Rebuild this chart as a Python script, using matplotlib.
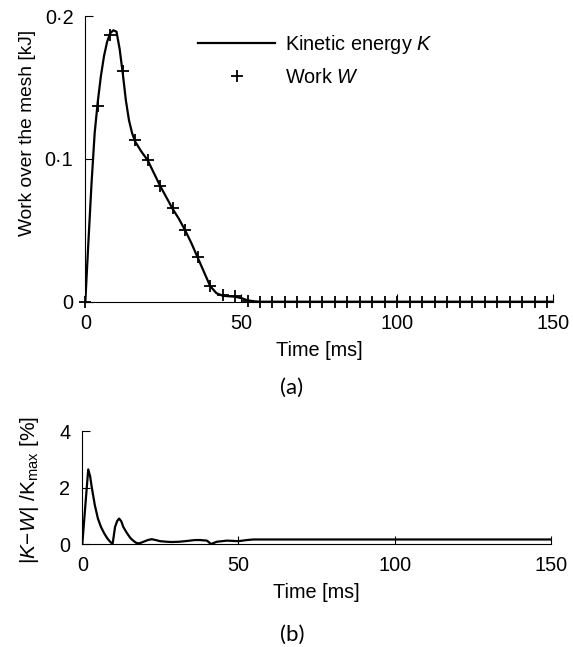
import numpy as np
import matplotlib
matplotlib.use("Agg")
import matplotlib.pyplot as plt

plt.rcParams["font.family"] = ["Liberation Sans", "DejaVu Sans"]
plt.rcParams["mathtext.fontset"] = "custom"
plt.rcParams["mathtext.rm"] = "Liberation Sans"
plt.rcParams["mathtext.it"] = "Liberation Sans:italic"
plt.rcParams["mathtext.bf"] = "Liberation Sans:bold"

# Kinetic energy K [kJ] over time [ms]
k_time = [0, 1, 2, 3, 4, 5, 6, 7, 8, 9, 10, 11, 12, 13, 14, 15, 16, 18, 20,
          22, 24, 26, 28, 30, 32, 34, 36, 38, 40, 42, 44, 46, 48, 50, 52, 54,
          56, 60, 150]
k_energy = [0, 0.042, 0.083, 0.118, 0.140, 0.158, 0.172, 0.182, 0.188, 0.190,
            0.189, 0.177, 0.160, 0.141, 0.127, 0.118, 0.112, 0.105, 0.099,
            0.090, 0.081, 0.073, 0.065, 0.058, 0.050, 0.041, 0.031, 0.021,
            0.011, 0.006, 0.0042, 0.0038, 0.0035, 0.0025, 0.001, 0.0003,
            0, 0, 0]

# Work W [kJ] sampled every 4 ms
w_time = list(range(0, 149, 4))
w_work = [0, 0.137, 0.187, 0.1615, 0.113, 0.099, 0.081, 0.0655, 0.050,
          0.031, 0.011, 0.0044, 0.0037, 0.0007] + [0] * 24

# Relative difference |K-W|/Kmax [%]
e_time = [0, 1, 1.9, 2.5, 3, 4, 5, 6, 7, 8, 9, 9.7, 10.5, 11.2, 11.8, 12.5,
          13.1, 14, 14.7, 15.5, 16.3, 17.1, 17.9, 18.7, 19.6, 21, 22.2, 23.5,
          24.9, 27, 28.6, 31, 32.9, 36.1, 37.7, 39.9, 41.2, 43.1, 46.3, 50,
          52.7, 54.8, 150]
e_diff = [0, 1.4, 2.64, 2.4, 2.03, 1.38, 0.9, 0.6, 0.38, 0.2, 0.07, 0, 0.61,
          0.82, 0.9, 0.8, 0.61, 0.44, 0.32, 0.2, 0.12, 0.05, 0.02, 0.04, 0.08,
          0.14, 0.17, 0.14, 0.1, 0.08, 0.07, 0.08, 0.1, 0.14, 0.14, 0.12, 0,
          0.08, 0.12, 0.1, 0.14, 0.16, 0.16]

W, H = 573, 647
fig = plt.figure(figsize=(W / 100, H / 100), dpi=100)

FS = 14.3


def px_axes(l, r, b, t):
    return fig.add_axes([l / W, 1 - b / H, (r - l) / W, (b - t) / H])


def style(ax):
    for s in ("top", "right"):
        ax.spines[s].set_visible(False)
    for s in ("left", "bottom"):
        ax.spines[s].set_linewidth(0.8)
    ax.tick_params(direction="in", length=6, width=0.8, labelsize=FS, pad=8.5)


# ---- (a) energy and work ----
ax1 = px_axes(85.3, 553.3, 301.7, 16)
ax1.plot(k_time, k_energy, color="black", lw=1.6, label=r"Kinetic energy $K$",
         zorder=3)
ax1.plot(w_time, w_work, ls="none", marker="+", ms=8, mew=1.3, color="black",
         label=r"Work $W$", zorder=4, clip_on=False)
ax1.set_xlim(0, 150)
ax1.set_ylim(0, 0.2)
ax1.set_xticks([0, 50, 100, 150])
ax1.set_yticks([0, 0.1, 0.2])
ax1.set_yticklabels(["0", "0\u00b71", "0\u00b72"])
style(ax1)
ax1.set_xlabel("Time [ms]", fontsize=FS, labelpad=6)
fig.text(28 / W, 1 - 133 / H, "Work over the mesh [kJ]", rotation=90,
         ha="center", va="center", fontsize=13.8)
ax1.legend(loc="upper left", bbox_to_anchor=(198 / W, 1 - 33 / H),
           bbox_transform=fig.transFigure, frameon=False, fontsize=FS,
           handlelength=3.9, handletextpad=0.5, borderpad=0,
           borderaxespad=0, labelspacing=0.6, numpoints=1)
fig.text(292 / W, 1 - 388 / H, "(a)", ha="center", va="center",
         fontsize=16, family="Lato")

# ---- (b) relative difference ----
ax2 = px_axes(82.3, 550.7, 544, 431)
ax2.plot(e_time, e_diff, color="black", lw=1.6, zorder=3)
ax2.set_xlim(0, 150)
ax2.set_ylim(0, 4)
ax2.set_xticks([0, 50, 100, 150])
ax2.set_yticks([0, 2, 4])
style(ax2)
ax2.set_xlabel("Time [ms]", fontsize=FS, labelpad=6)
fig.text(30 / W, 1 - 490 / H, r"$|K\!-\!W|$ /K$_{\mathrm{max}}$ [%]",
         rotation=90, ha="center", va="center", fontsize=15)
fig.text(292 / W, 1 - 635 / H, "(b)", ha="center", va="center",
         fontsize=16, family="Lato")

fig.savefig("out.png", dpi=100)
